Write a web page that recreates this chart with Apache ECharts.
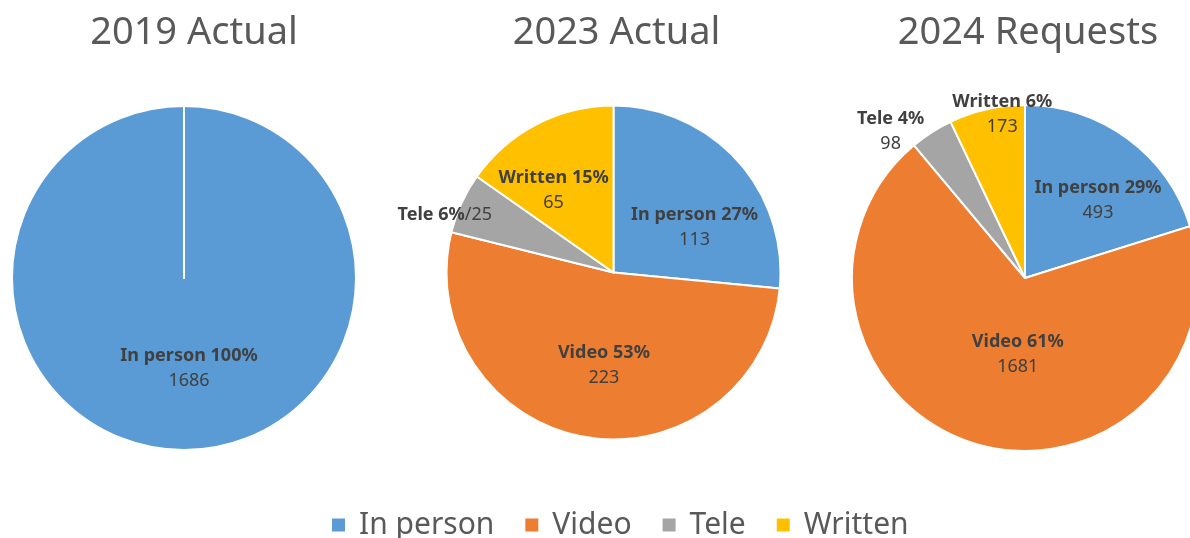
<!DOCTYPE html>
<html>
<head>
<meta charset="utf-8">
<script src="https://cdn.jsdelivr.net/npm/echarts@6/dist/echarts.min.js"></script>
<style>
html,body{margin:0;padding:0;background:#fff;}
#c{width:1190px;height:538px;}
</style>
</head>
<body>
<div id="c"></div>
<script>
// ---- data ----
const categories = ['In person', 'Video', 'Tele', 'Written'];
const titles = ['2019 Actual', '2023 Actual', '2024 Requests'];
const counts2019 = [1686, 0, 0, 0];
const counts2023 = [113, 223, 25, 65];
const counts2024 = [493, 1681, 98, 173];
// percentages as printed on the chart labels
const pct2019 = [100, 0, 0, 0];
const pct2023 = [27, 53, 6, 15];
const pct2024 = [29, 61, 4, 6];

const colors = ['#5B9BD5', '#ED7D31', '#A5A5A5', '#FFC000'];
const FONT = 'Noto Sans';

// label style tweaks (offsets from ECharts inside position)
const labelOffsets = [
  [[5, 1], null, null, null],
  [[17, 13], [5, 8], [-90, -22], [-20, -5]],
  [[20, -5], [18, -10], [-86, -71], [-3, -76]]
];
const pies = [
  { center: [184, 278], radius: 172 },
  { center: [613.5, 272.5], radius: 167 },
  { center: [1025, 278], radius: 173 }
];

function makeData(counts, pcts, offs, singleLineIdx) {
  return categories.map((name, i) => {
    const item = { name: name, value: counts[i] };
    if (counts[i] === 0) {
      item.label = { show: false };
    } else {
      const single = (i === singleLineIdx);
      item.label = {
        show: true,
        offset: offs[i] || [0, 0],
        formatter: single
          ? '{b|' + name + ' ' + pcts[i] + '%}{v|/' + counts[i] + '}'
          : '{b|' + name + ' ' + pcts[i] + '%}\n{v|' + counts[i] + '}'
      };
    }
    return item;
  });
}

const datasets = [
  makeData(counts2019, pct2019, labelOffsets[0], -1),
  makeData(counts2023, pct2023, labelOffsets[1], 2),
  makeData(counts2024, pct2024, labelOffsets[2], -1)
];

const chart = echarts.init(document.getElementById('c'), null, { renderer: 'canvas' });

const option = {
  animation: false,
  color: colors,
  title: titles.map((t, k) => ({
    text: t,
    left: pies[k].center[0] + (k === 0 ? 7 : 0) - 2,
    top: 9,
    textAlign: 'center',
    textStyle: { fontFamily: FONT, fontSize: 38, fontWeight: 'normal', color: '#595959' }
  })),
  legend: {
    data: categories,
    left: 325,
    top: 505,
    icon: 'rect',
    itemWidth: 15,
    itemHeight: 15,
    itemGap: 29,
    textStyle: { fontFamily: FONT, fontSize: 30, color: '#595959', padding: [0, 0, 0, 8] }
  },
  series: datasets.map((d, k) => ({
    type: 'pie',
    center: pies[k].center,
    radius: pies[k].radius,
    startAngle: 90,
    clockwise: true,
    avoidLabelOverlap: false,
    itemStyle: { borderColor: '#ffffff', borderWidth: 2 },
    label: {
      position: 'inside',
      color: '#404040',
      fontFamily: FONT,
      rich: {
        b: { fontFamily: FONT, fontSize: 18, fontWeight: 'bold', color: '#404040', lineHeight: 25 },
        v: { fontFamily: FONT, fontSize: 18, color: '#404040', lineHeight: 25 }
      }
    },
    labelLine: { show: false },
    emphasis: { disabled: true },
    data: d
  }))
};
chart.setOption(option);
</script>
</body>
</html>
